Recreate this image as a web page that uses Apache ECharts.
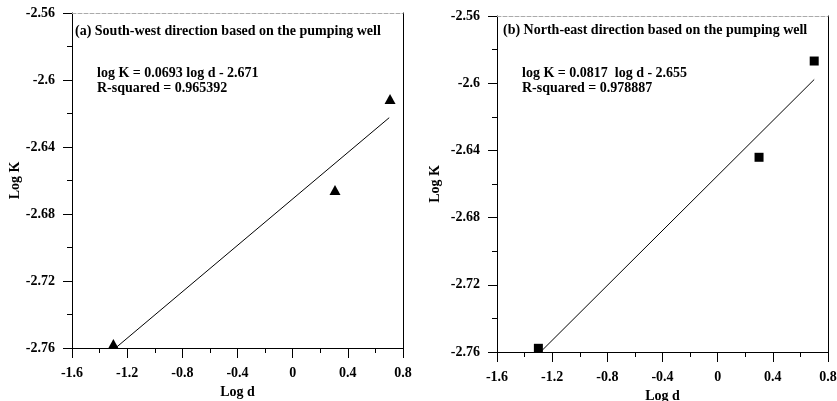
<!DOCTYPE html>
<html><head><meta charset="utf-8">
<script src="https://cdn.jsdelivr.net/npm/echarts@6/dist/echarts.min.js"></script>
<style>html,body{margin:0;padding:0;background:#fff}#c{width:837px;height:401px}</style>
</head><body><div id="c"></div>
<script>
const xTicks = ["-1.6","-1.2","-0.8","-0.4","0","0.4","0.8"];
const yTicks = ["-2.76","-2.72","-2.68","-2.64","-2.6","-2.56"];
const swPoints = [[-1.30,-2.7576],[0.307,-2.6657],[0.706,-2.6113]];
const swFit = [[-1.28,-2.7597],[0.70,-2.6225]];
const nePoints = [[-1.30,-2.7578],[0.30,-2.6441],[0.70,-2.5868]];
const neFit = [[-1.28,-2.7596],[0.70,-2.5978]];
const titleA = "(a) South-west direction based on the pumping well";
const eqA = "log K = 0.0693 log d - 2.671\nR-squared = 0.965392";
const titleB = "(b) North-east direction based on the pumping well";
const eqB = "log K = 0.0817  log d - 2.655\nR-squared = 0.978887";

const F = "Liberation Serif";
const fmt = v => String(parseFloat(Number(v).toFixed(2)));
const xMin = parseFloat(xTicks[0]), xMax = parseFloat(xTicks[xTicks.length-1]);
const yMin = parseFloat(yTicks[0]), yMax = parseFloat(yTicks[yTicks.length-1]);

function xAx(gi, gap){
  return [{
    gridIndex: gi, type:'value', min:xMin, max:xMax, interval:0.4, name:'Log d',
    nameLocation:'middle', nameGap:gap,
    nameTextStyle:{fontFamily:F, fontWeight:'bold', fontSize:14, color:'#000'},
    axisLine:{show:true, onZero:false, lineStyle:{color:'#000', width:1}},
    axisTick:{show:true, inside:false, length:10, lineStyle:{color:'#000'}},
    minorTick:{show:true, splitNumber:2, length:5, lineStyle:{color:'#000'}},
    axisLabel:{formatter:fmt, fontFamily:F, fontWeight:'bold', fontSize:14, color:'#000', margin:18},
    splitLine:{show:false}
  },{
    gridIndex: gi, type:'value', position:'top', min:xMin, max:xMax,
    axisLine:{show:true, onZero:false, lineStyle:{color:'#aaa', width:1, type:'dashed'}},
    axisTick:{show:false}, axisLabel:{show:false}, splitLine:{show:false}
  }];
}
function yAx(gi, gap){
  return [{
    gridIndex: gi, type:'value', min:yMin, max:yMax, interval:0.04, name:'Log K',
    nameLocation:'middle', nameGap:gap,
    nameTextStyle:{fontFamily:F, fontWeight:'bold', fontSize:14, color:'#000'},
    axisLine:{show:true, onZero:false, lineStyle:{color:'#000', width:1}},
    axisTick:{show:true, inside:false, length:9, lineStyle:{color:'#000'}},
    minorTick:{show:true, splitNumber:2, length:5, lineStyle:{color:'#000'}},
    axisLabel:{formatter:fmt, fontFamily:F, fontWeight:'bold', fontSize:14, color:'#000', margin:17},
    splitLine:{show:false}
  },{
    gridIndex: gi, type:'value', position:'right', min:yMin, max:yMax,
    axisLine:{show:true, onZero:false, lineStyle:{color:'#000', width:1}},
    axisTick:{show:false}, axisLabel:{show:false}, splitLine:{show:false}
  }];
}

const ts = {fontFamily:F, fontWeight:'bold', fontSize:14, color:'#000', lineHeight:15};
const chart = echarts.init(document.getElementById('c'), null, {renderer:'canvas'});
chart.setOption({
  animation:false,
  grid:[
    {left:72, right:434, top:13, bottom:53, containLabel:false, outerBoundsMode:'none'},
    {left:497, right:9, top:16, bottom:49, containLabel:false, outerBoundsMode:'none'}
  ],
  xAxis:[...xAx(0, 35), ...xAx(1, 34)],
  yAxis:[...yAx(0, 50), ...yAx(1, 55)],
  title:[
    {text:titleA, left:75, top:24, padding:0, textStyle:ts},
    {text:eqA, left:97, top:66, padding:0, textStyle:ts},
    {text:titleB, left:503, top:23, padding:0, textStyle:ts},
    {text:eqB, left:522, top:66, padding:0, textStyle:ts}
  ],
  series:[
    {type:'line', xAxisIndex:0, yAxisIndex:0, data:swFit, showSymbol:false, symbol:'none',
     lineStyle:{color:'#000', width:1}},
    {type:'scatter', xAxisIndex:0, yAxisIndex:0, data:swPoints, symbol:'triangle', symbolSize:[11,10],
     itemStyle:{color:'#000', opacity:1}},
    {type:'line', xAxisIndex:2, yAxisIndex:2, data:neFit, showSymbol:false, symbol:'none',
     lineStyle:{color:'#000', width:1}},
    {type:'scatter', xAxisIndex:2, yAxisIndex:2, data:nePoints, symbol:'rect', symbolSize:9,
     itemStyle:{color:'#000', opacity:1}}
  ]
});
</script></body></html>
